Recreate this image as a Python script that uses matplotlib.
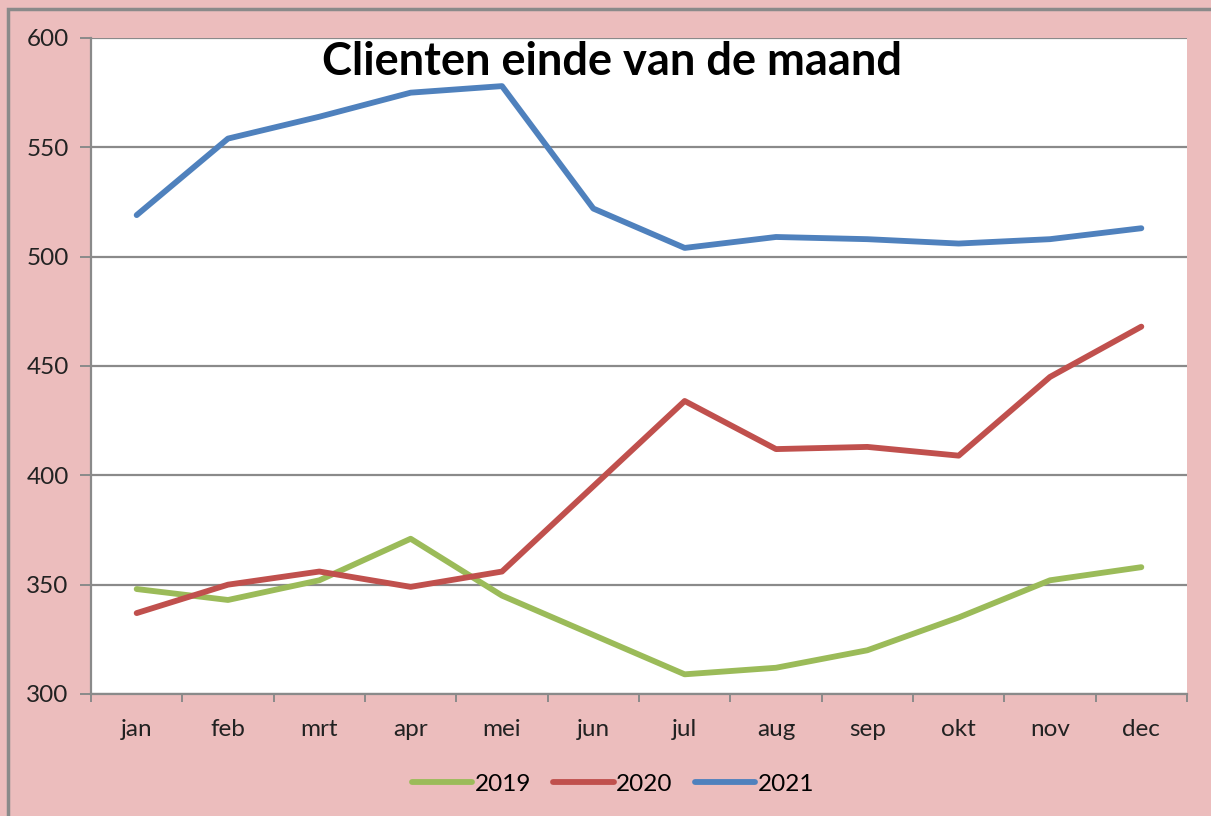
import matplotlib.pyplot as plt
from matplotlib.patches import Rectangle

months = ['jan', 'feb', 'mrt', 'apr', 'mei', 'jun', 'jul', 'aug', 'sep', 'okt', 'nov', 'dec']
clients_2019 = [348, 343, 352, 371, 345, 327, 309, 312, 320, 335, 352, 358]
clients_2020 = [337, 350, 356, 349, 356, 395, 434, 412, 413, 409, 445, 468]
clients_2021 = [519, 554, 564, 575, 578, 522, 504, 509, 508, 506, 508, 513]

bg = '#ecbdbd'
grid_col = '#8a8a8a'
plt.rcParams['font.family'] = ['Lato', 'DejaVu Sans']

fig = plt.figure(figsize=(12.11, 8.16), dpi=100)
fig.patch.set_facecolor(bg)
fig.patches.append(Rectangle((8 / 1211, -0.05), 1.1, 1 - 9 / 816 + 0.05,
                             transform=fig.transFigure, fill=False,
                             edgecolor='#8a8a8a', linewidth=2.5))

ax = fig.add_axes([91 / 1211, 1 - 694 / 816, (1187 - 91) / 1211, (694 - 38) / 816])
ax.set_facecolor('white')

x = range(len(months))
ax.plot(x, clients_2019, color='#9bbb59', lw=4.2, label='2019', solid_capstyle='round')
ax.plot(x, clients_2020, color='#c0504d', lw=4.2, label='2020', solid_capstyle='round')
ax.plot(x, clients_2021, color='#4f81bd', lw=4.2, label='2021', solid_capstyle='round')

ax.set_xlim(-0.5, 11.5)
ax.set_ylim(300, 600)
ax.set_yticks(range(300, 601, 50))
ax.yaxis.grid(True, color=grid_col, lw=1.6)
ax.set_axisbelow(True)

ax.set_xticks([i - 0.5 for i in range(13)])
ax.set_xticklabels([])
ax.set_xticks(list(x), minor=True)
ax.set_xticklabels(months, minor=True)
ax.tick_params(axis='x', which='major', length=6, width=1.4, color=grid_col, direction='out')
ax.tick_params(axis='x', which='minor', length=0, labelsize=17.5, pad=18, labelcolor='#222222')
ax.tick_params(axis='y', length=8, width=1.4, color=grid_col, labelsize=17.5, pad=8, labelcolor='#222222')

for side in ['top', 'right']:
    ax.spines[side].set_visible(False)
for side in ['left', 'bottom']:
    ax.spines[side].set_color(grid_col)
    ax.spines[side].set_linewidth(1.6)

fig.text(612 / 1211, 1 - 62 / 816, 'Clienten einde van de maand', ha='center', va='center',
         fontsize=32.5, fontweight='bold', color='black')

fig.legend(loc='center', bbox_to_anchor=(613 / 1211, 1 - 784 / 816), ncol=3, frameon=False,
           fontsize=17.5, handlelength=2.5, handletextpad=0.1, columnspacing=0.9)

fig.savefig('out.png', dpi=100, facecolor=bg)
